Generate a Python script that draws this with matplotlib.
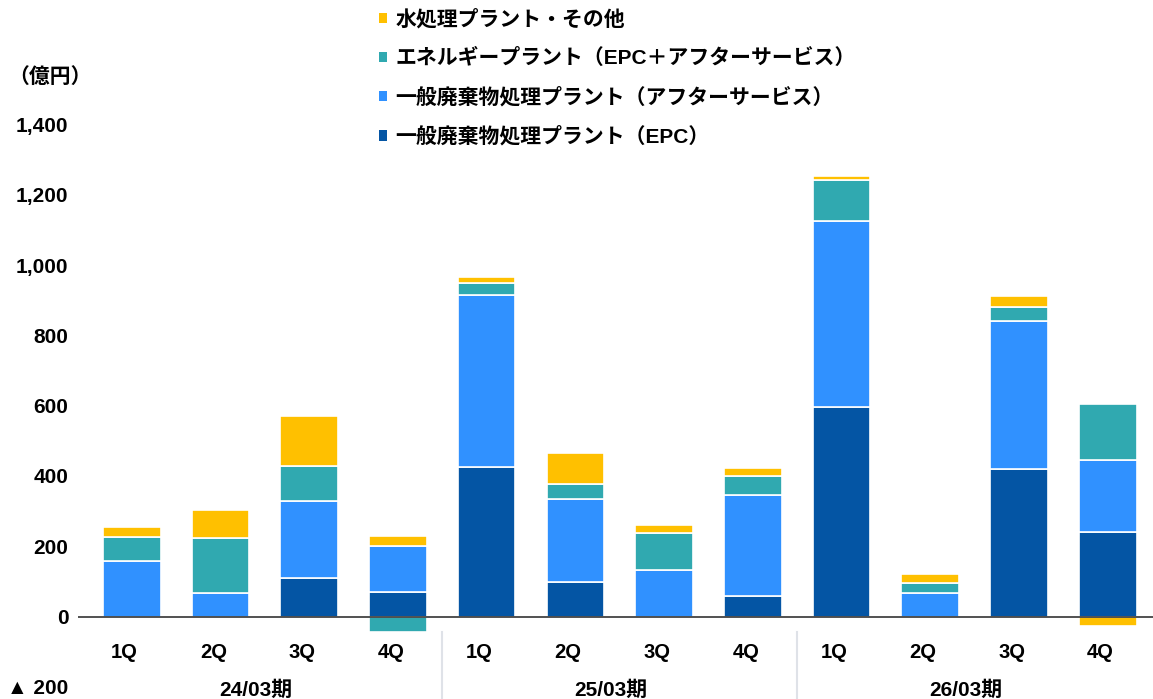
import numpy as np
import matplotlib.pyplot as plt
from matplotlib.patches import Patch

plt.rcParams['font.family'] = ['Liberation Sans', 'Noto Sans CJK JP']
plt.rcParams['font.weight'] = 'bold'

# quarterly orders by segment (億円)
quarters = ['1Q', '2Q', '3Q', '4Q'] * 3
periods = ['24/03期', '25/03期', '26/03期']
epc = [0, 0, 109, 71, 425, 97, 0, 57, 596, 0, 421, 240]
after = [157, 68, 221, 130, 489, 236, 131, 290, 529, 68, 421, 205]
energy = [69, 155, 97, -45, 35, 43, 106, 54, 118, 27, 38, 160]
water = [28, 80, 143, 27, 17, 90, 23, 23, 12, 26, 31, -28]

series = [
    ('一般廃棄物処理プラント（EPC）', epc, '#0455a4'),
    ('一般廃棄物処理プラント（アフターサービス）', after, '#3091ff'),
    ('エネルギープラント（EPC＋アフターサービス）', energy, '#30a9b0'),
    ('水処理プラント・その他', water, '#ffc000'),
]

yticks = [-200, 0, 200, 400, 600, 800, 1000, 1200, 1400]
ytick_labels = ['▲ 200', '0', '200', '400', '600', '800', '1,000', '1,200', '1,400']

W, H = 1153, 699
fig = plt.figure(figsize=(W / 100, H / 100), dpi=100)
ax = fig.add_axes([78 / W, 0, (W - 78) / W, 1])

x = np.arange(len(quarters))
pos_base = np.zeros(len(x))
neg_base = np.zeros(len(x))
handles = []
for name, vals, color in series:
    v = np.array(vals, dtype=float)
    bottom = np.where(v >= 0, pos_base, neg_base)
    ax.bar(x, v, bottom=bottom, width=0.65, color=color,
           edgecolor='white', linewidth=1.2)
    pos_base += np.where(v >= 0, v, 0)
    neg_base += np.where(v < 0, v, 0)
    handles.append(Patch(facecolor=color, label=name))

# pixel 616.5 is zero, 2.846 units per pixel
upp = 2.846
ax.set_xlim(-0.605, 11.51)
ax.set_ylim(-(H - 616.5) * upp, 616.5 * upp)
ax.axhline(0, color='#222222', lw=1.1)

for s in ax.spines.values():
    s.set_visible(False)
ax.set_xticks([])
ax.set_yticks(yticks)
ax.set_yticklabels(ytick_labels, fontsize=15, fontweight='bold')
ax.tick_params(axis='y', length=0, pad=7)

qy = -(652 - 616.5) * upp
gy = -(690 - 616.5) * upp
for i, q in enumerate(quarters):
    ax.text(i - 0.08, qy, q, ha='center', va='center', fontsize=14.5, fontweight='bold')
for g, p in enumerate(periods):
    ax.text(g * 4 + 1.4, gy, p, ha='center', va='center', fontsize=15, fontweight='bold')
for sep in [3.5, 7.5]:
    ax.plot([sep, sep], [-(632 - 616.5) * upp, -(H - 616.5) * upp],
            color='#dfe2e8', lw=1.5, clip_on=False)

fig.text(8 / W, 1 - 77 / H, '（億円）', ha='left', va='center',
         fontsize=15, fontweight='bold')

leg = fig.legend(handles=handles[::-1], loc='upper left',
                 bbox_to_anchor=(379 / W, 1 - 9 / H), frameon=False,
                 handlelength=0.4, handleheight=0.4,
                 handletextpad=0.38, labelspacing=0.9, borderpad=0,
                 borderaxespad=0, prop={'weight': 'bold', 'size': 15})

fig.savefig('out.png', dpi=100)
